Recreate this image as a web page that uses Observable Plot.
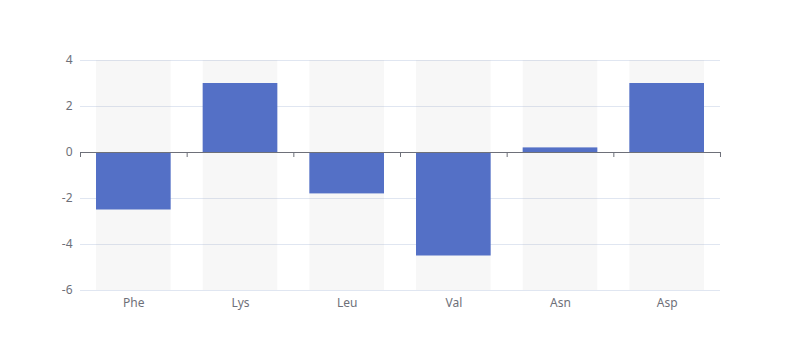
<!DOCTYPE html>
<html>
<head>
<meta charset="utf-8">
<script src="https://cdn.jsdelivr.net/npm/d3@7"></script>
<script src="https://cdn.jsdelivr.net/npm/@observablehq/plot@0.6"></script>
<style>
  html, body { margin: 0; padding: 0; background: #fff; }
  #chart { width: 800px; height: 360px; }
  svg text { font-family: "Noto Sans", "DejaVu Sans", sans-serif; }
</style>
</head>
<body>
<div id="chart"></div>
<script>
const categories = ["Phe", "Lys", "Leu", "Val", "Asn", "Asp"];
const values = [-2.5, 3, -1.8, -4.5, 0.2, 3];
const yTicks = [-6, -4, -2, 0, 2, 4];

const data = categories.map((c, i) => ({cat: c, value: values[i]}));
const yMin = yTicks[0], yMax = yTicks[yTicks.length - 1];

const W = 800, H = 360;
const mL = 80, mR = 80, mT = 60, mB = 70;
const step = (W - mL - mR) / categories.length;
const inset = step * 0.15;

const chart = Plot.plot({
  width: W,
  height: H,
  marginLeft: mL,
  marginRight: mR,
  marginTop: mT,
  marginBottom: mB,
  style: {fontSize: "12px", color: "#6E7079", background: "#fff"},
  x: {domain: categories, padding: 0, round: false, label: null},
  y: {type: "linear", domain: [yMin, yMax], label: null},
  marks: [
    Plot.ruleY(yTicks, {stroke: "#E0E6F1", strokeWidth: 1}),
    Plot.barY(categories, {x: d => d, y1: () => yMin, y2: () => yMax, fill: "rgba(180,180,180,0.1)", insetLeft: inset, insetRight: inset}),
    Plot.barY(data, {x: "cat", y: "value", fill: "#5470C6", insetLeft: inset, insetRight: inset}),
    Plot.ruleY([0], {stroke: "#6E7079", strokeWidth: 1}),
    Plot.ruleX(categories, {x: d => d, y1: () => 0, y2: () => 0, dx: -step / 2, stroke: "#6E7079", insetBottom: -5}),
    Plot.ruleX([categories[categories.length - 1]], {x: d => d, y1: () => 0, y2: () => 0, dx: step / 2, stroke: "#6E7079", insetBottom: -5}),
    Plot.axisX({tickSize: 0, tickPadding: 8, fill: "#6E7079", fontSize: 12}),
    Plot.axisY({ticks: yTicks, tickSize: 0, tickPadding: 8, fill: "#6E7079", fontSize: 12, tickFormat: d => String(d).replace("\u2212", "-")})
  ]
});
document.getElementById("chart").appendChild(chart);
</script>
</body>
</html>
